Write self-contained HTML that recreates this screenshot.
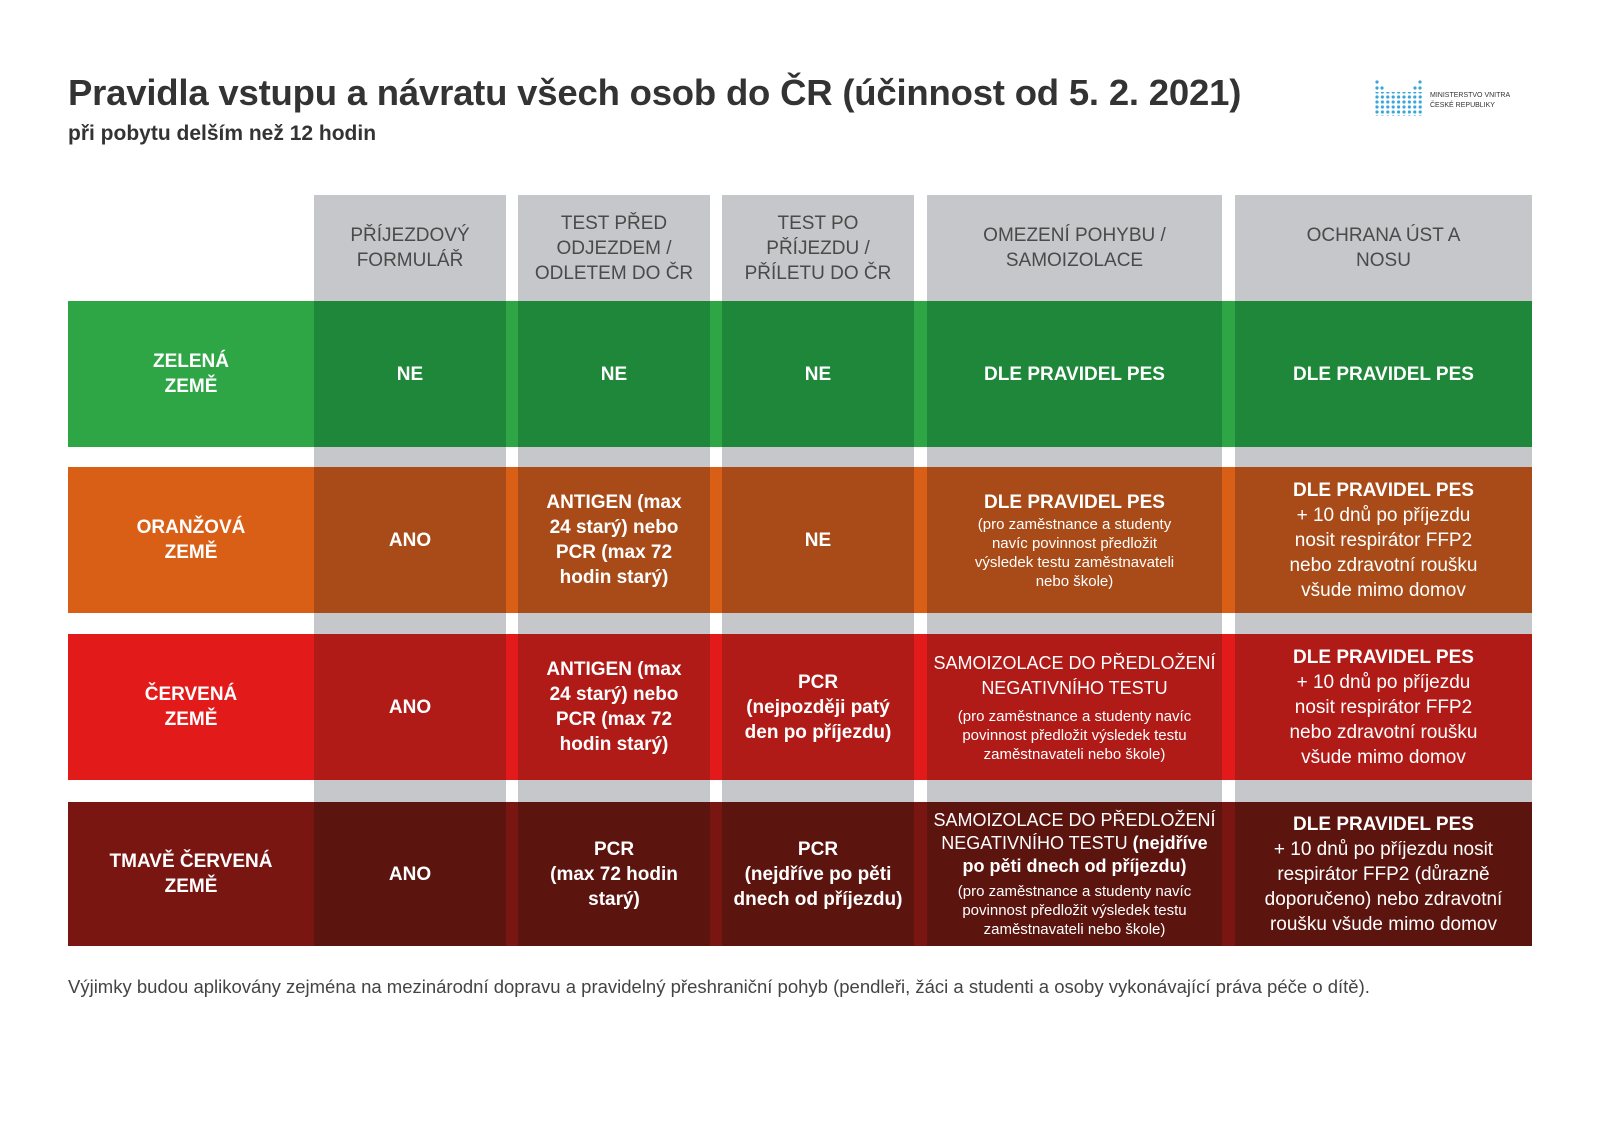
<!DOCTYPE html>
<html><head><meta charset="utf-8"><style>
body{margin:0;width:1600px;height:1131px;background:#fff;position:relative;overflow:hidden;font-family:"Liberation Sans",sans-serif}
.a{position:absolute;box-sizing:border-box}
.c{display:flex;flex-direction:column;justify-content:center;align-items:center;text-align:center;color:#fff;font-size:19px;line-height:25px}
.b{font-weight:bold}
.h{color:#4a4a4a;font-size:19px;line-height:25px;background:#c5c7ca}
.s{font-size:15px;line-height:19px}
.n{font-size:19px;line-height:25px}
.g{background:#c5c7ca}
</style></head><body>
<div class="a" style="left:68px;top:72px;font-size:36.5px;font-weight:bold;color:#333;letter-spacing:-0.2px">Pravidla vstupu a návratu všech osob do ČR (účinnost od 5. 2. 2021)</div>
<div class="a" style="left:68px;top:122px;font-size:21px;font-weight:bold;color:#333">při pobytu delším než 12 hodin</div>
<svg class="a" style="left:1375px;top:80px" width="48" height="38">
<g fill="#3aa5d8">
<circle cx="2" cy="2" r="1.6"/><circle cx="45" cy="2" r="1.6"/>
<circle cx="2" cy="8" r="1.6"/><circle cx="7" cy="8" r="1.6"/><circle cx="40" cy="8" r="1.6"/><circle cx="45" cy="8" r="1.6"/>
</g>
<rect x="0" y="12" width="48" height="24" fill="url(#p)"/>
<defs><pattern id="p" width="5.4" height="5" patternUnits="userSpaceOnUse"><circle cx="2" cy="2" r="1.6" fill="#3aa5d8"/></pattern></defs>
</svg>
<div class="a" style="left:1430px;top:91px;font-size:7px;line-height:10px;color:#333">MINISTERSTVO VNITRA<br>ČESKÉ REPUBLIKY</div>

<div class="a c h" style="left:314px;top:195px;width:192px;height:106px">PŘÍJEZDOVÝ<br>FORMULÁŘ</div>
<div class="a c h" style="left:518px;top:195px;width:192px;height:106px">TEST PŘED<br>ODJEZDEM /<br>ODLETEM DO ČR</div>
<div class="a c h" style="left:722px;top:195px;width:192px;height:106px">TEST PO<br>PŘÍJEZDU /<br>PŘÍLETU DO ČR</div>
<div class="a c h" style="left:927px;top:195px;width:295px;height:106px">OMEZENÍ POHYBU /<br>SAMOIZOLACE</div>
<div class="a c h" style="left:1235px;top:195px;width:297px;height:106px">OCHRANA ÚST A<br>NOSU</div>
<div class="a g" style="left:314px;top:447px;width:192px;height:355px"></div>
<div class="a g" style="left:518px;top:447px;width:192px;height:355px"></div>
<div class="a g" style="left:722px;top:447px;width:192px;height:355px"></div>
<div class="a g" style="left:927px;top:447px;width:295px;height:355px"></div>
<div class="a g" style="left:1235px;top:447px;width:297px;height:355px"></div>

<div class="a" style="left:68px;top:301px;width:1464px;height:146px;background:#2ea645"></div>
<div class="a c b" style="left:68px;top:301px;width:246px;height:146px">ZELENÁ<br>ZEMĚ</div>
<div class="a c b" style="left:314px;top:301px;width:192px;height:146px;background:#1f873a">NE</div>
<div class="a c b" style="left:518px;top:301px;width:192px;height:146px;background:#1f873a">NE</div>
<div class="a c b" style="left:722px;top:301px;width:192px;height:146px;background:#1f873a">NE</div>
<div class="a c b" style="left:927px;top:301px;width:295px;height:146px;background:#1f873a">DLE PRAVIDEL PES</div>
<div class="a c b" style="left:1235px;top:301px;width:297px;height:146px;background:#1f873a">DLE PRAVIDEL PES</div>

<div class="a" style="left:68px;top:467px;width:1464px;height:146px;background:#d95f16"></div>
<div class="a c b" style="left:68px;top:467px;width:246px;height:146px">ORANŽOVÁ<br>ZEMĚ</div>
<div class="a c b" style="left:314px;top:467px;width:192px;height:146px;background:#a84b18">ANO</div>
<div class="a c b" style="left:518px;top:467px;width:192px;height:146px;background:#a84b18">ANTIGEN (max<br>24 starý) nebo<br>PCR (max 72<br>hodin starý)</div>
<div class="a c b" style="left:722px;top:467px;width:192px;height:146px;background:#a84b18">NE</div>
<div class="a c" style="left:927px;top:467px;width:295px;height:146px;background:#a84b18"><div class="b">DLE PRAVIDEL PES</div><div class="s">(pro zaměstnance a studenty<br>navíc povinnost předložit<br>výsledek testu zaměstnavateli<br>nebo škole)</div></div>
<div class="a c" style="left:1235px;top:467px;width:297px;height:146px;background:#a84b18"><div class="b">DLE PRAVIDEL PES</div><div>+ 10 dnů po příjezdu<br>nosit respirátor FFP2<br>nebo zdravotní roušku<br>všude mimo domov</div></div>

<div class="a" style="left:68px;top:634px;width:1464px;height:146px;background:#e31a1a"></div>
<div class="a c b" style="left:68px;top:634px;width:246px;height:146px">ČERVENÁ<br>ZEMĚ</div>
<div class="a c b" style="left:314px;top:634px;width:192px;height:146px;background:#b01a17">ANO</div>
<div class="a c b" style="left:518px;top:634px;width:192px;height:146px;background:#b01a17">ANTIGEN (max<br>24 starý) nebo<br>PCR (max 72<br>hodin starý)</div>
<div class="a c b" style="left:722px;top:634px;width:192px;height:146px;background:#b01a17">PCR<br>(nejpozději patý<br>den po příjezdu)</div>
<div class="a c" style="left:927px;top:634px;width:295px;height:146px;background:#b01a17"><div class="n" style="font-size:18px">SAMOIZOLACE DO PŘEDLOŽENÍ<br>NEGATIVNÍHO TESTU</div><div class="s" style="margin-top:6px">(pro zaměstnance a studenty navíc<br>povinnost předložit výsledek testu<br>zaměstnavateli nebo škole)</div></div>
<div class="a c" style="left:1235px;top:634px;width:297px;height:146px;background:#b01a17"><div class="b">DLE PRAVIDEL PES</div><div>+ 10 dnů po příjezdu<br>nosit respirátor FFP2<br>nebo zdravotní roušku<br>všude mimo domov</div></div>

<div class="a" style="left:68px;top:802px;width:1464px;height:144px;background:#7a1611"></div>
<div class="a c b" style="left:68px;top:802px;width:246px;height:144px">TMAVĚ ČERVENÁ<br>ZEMĚ</div>
<div class="a c b" style="left:314px;top:802px;width:192px;height:144px;background:#5c140e">ANO</div>
<div class="a c b" style="left:518px;top:802px;width:192px;height:144px;background:#5c140e">PCR<br>(max 72 hodin<br>starý)</div>
<div class="a c b" style="left:722px;top:802px;width:192px;height:144px;background:#5c140e">PCR<br>(nejdříve po pěti<br>dnech od příjezdu)</div>
<div class="a c" style="left:927px;top:802px;width:295px;height:144px;background:#5c140e"><div style="font-size:18px;line-height:23px">SAMOIZOLACE DO PŘEDLOŽENÍ<br>NEGATIVNÍHO TESTU <b>(nejdříve<br>po pěti dnech od příjezdu)</b></div><div class="s" style="margin-top:4px">(pro zaměstnance a studenty navíc<br>povinnost předložit výsledek testu<br>zaměstnavateli nebo škole)</div></div>
<div class="a c" style="left:1235px;top:802px;width:297px;height:144px;background:#5c140e"><div class="b">DLE PRAVIDEL PES</div><div>+ 10 dnů po příjezdu nosit<br>respirátor FFP2 (důrazně<br>doporučeno) nebo zdravotní<br>roušku všude mimo domov</div></div>

<div class="a" style="left:68px;top:976px;font-size:18.5px;color:#444">Výjimky budou aplikovány zejména na mezinárodní dopravu a pravidelný přeshraniční pohyb (pendleři, žáci a studenti a osoby vykonávající práva péče o dítě).</div>
</body></html>
